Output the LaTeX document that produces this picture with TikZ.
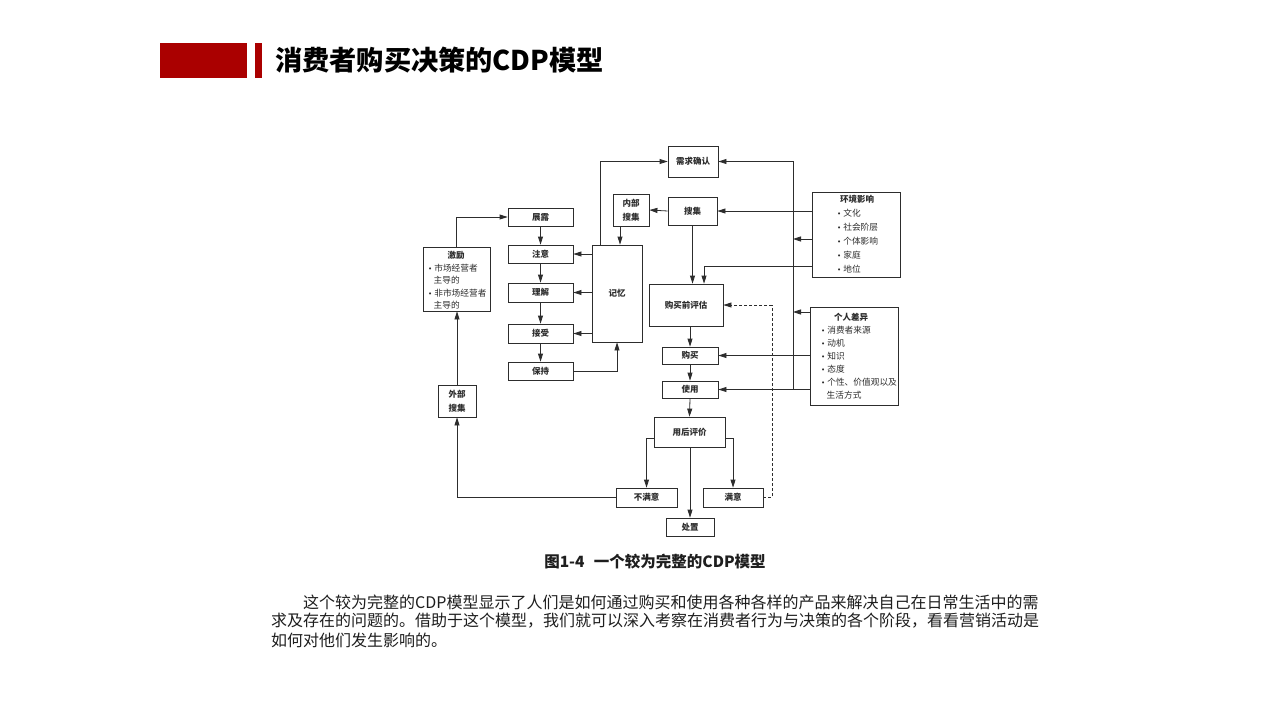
\documentclass[tikz,border=0pt]{standalone}
\usepackage{fontspec}
\setmainfont{Liberation Sans}
\newfontfamily\cjk{Noto Sans CJK SC}
\newfontfamily\dv{DejaVu Sans}
\usetikzlibrary{arrows.meta}
\definecolor{barred}{RGB}{170,0,0}
\definecolor{lc}{RGB}{45,45,45}
\definecolor{tc}{RGB}{30,30,30}
\newcommand{\bul}{{\dv\fontsize{7}{7}\selectfont •}\hspace{2pt}}
\begin{document}
\begin{tikzpicture}[x=1pt,y=-1pt,
 box/.style={draw=lc, line width=0.8pt, fill=white, inner sep=0pt, font=\cjk\bfseries\fontsize{8.5}{13.5}\selectfont, text=lc, align=center},
 line/.style={draw=lc, line width=0.8pt},
 arr/.style={line, -{Triangle[length=8pt,width=5pt]}},
 item/.style={anchor=west, inner sep=0pt, font=\cjk\fontsize{8.7}{10}\selectfont, text=lc},
 ttl/.style={inner sep=0pt, font=\cjk\bfseries\fontsize{8.5}{10}\selectfont, text=lc},
 para/.style={anchor=west, inner sep=0pt, font=\cjk\fontsize{16}{16}\selectfont, text=tc}]
\useasboundingbox (0,0) rectangle (1280,720);
\fill[white] (0,0) rectangle (1280,720);
% header
\fill[barred] (160,43) rectangle (247,78);
\fill[barred] (255,43) rectangle (262,78);
\node[anchor=west, inner sep=0pt, font=\cjk\bfseries\fontsize{27.2}{27}\selectfont, text=black] (title) at (275,60) {消费者购买决策的CDP模型};
% boxes
\node[box, minimum width=50pt, minimum height=31pt] (xqqr) at (693,161.5) {需求确认};
\node[box, minimum width=36pt, minimum height=32pt] (nbsj) at (631,210) {内部\\搜集};
\node[box, minimum width=49pt, minimum height=28pt] (sj) at (692.5,211) {搜集};
\node[box, minimum width=88pt, minimum height=85pt] (hj) at (856,234.5) {};
\node[box, minimum width=65pt, minimum height=18pt] (zl) at (540.5,217) {展露};
\node[box, minimum width=65pt, minimum height=18pt] (zy) at (540.5,254) {注意};
\node[box, minimum width=65pt, minimum height=19pt] (lj) at (540.5,292.5) {理解};
\node[box, minimum width=65pt, minimum height=19pt] (js) at (540.5,333.5) {接受};
\node[box, minimum width=65pt, minimum height=18pt] (bc) at (540.5,371) {保持};
\node[box, minimum width=50pt, minimum height=97pt] (jy) at (617,293.5) {记忆};
\node[box, minimum width=67pt, minimum height=64pt] (jl) at (456.5,279) {};
\node[box, minimum width=74pt, minimum height=42pt] (gmqpg) at (686,305) {购买前评估};
\node[box, minimum width=56pt, minimum height=17pt] (gm) at (690,355.5) {购买};
\node[box, minimum width=56pt, minimum height=17pt] (sy) at (690,389.5) {使用};
\node[box, minimum width=88pt, minimum height=98pt] (grcy) at (854,356) {};
\node[box, minimum width=38pt, minimum height=32pt] (wbsj) at (457,401) {外部\\搜集};
\node[box, minimum width=71pt, minimum height=30pt] (yhpj) at (689.5,432) {用后评价};
\node[box, minimum width=61pt, minimum height=19pt] (bmy) at (646.5,497.5) {不满意};
\node[box, minimum width=60pt, minimum height=19pt] (my) at (733,497.5) {满意};
\node[box, minimum width=48pt, minimum height=18pt] (cz) at (690,527) {处置};
% box contents
\node[ttl] (hjt) at (857,199) {环境影响};
\node[item] (hj1) at (837,213) {\bul 文化};
\node[item] (hj2) at (837,227.5) {\bul 社会阶层};
\node[item] (hj3) at (837,241.5) {\bul 个体影响};
\node[item] (hj4) at (837,255.5) {\bul 家庭};
\node[item] (hj5) at (837,269.5) {\bul 地位};
\node[ttl] (grt) at (851,317.5) {个人差异};
\node[item] (gr1) at (821,330.5) {\bul 消费者来源};
\node[item] (gr2) at (821,343) {\bul 动机};
\node[item] (gr3) at (821,356) {\bul 知识};
\node[item] (gr4) at (821,369) {\bul 态度};
\node[item] (gr5) at (821,382) {\bul 个性、价值观以及};
\node[item] (gr6) at (826.5,395) {生活方式};
\node[ttl] (jlt) at (456,255) {激励};
\node[item] (jl1) at (428,268) {\bul 市场经营者};
\node[item] (jl2) at (433.5,280.5) {主导的};
\node[item] (jl3) at (428,293) {\bul 非市场经营者};
\node[item] (jl4) at (433.5,305.5) {主导的};
% helper coordinates
\coordinate (b1) at (793,239);
\coordinate (b2) at (793,312);
\coordinate (bB) at (793,389.5);
\coordinate (h2) at (704,266);
\coordinate (j1) at (600,0);
\coordinate (n1) at (620,0);
\coordinate (d1) at (772,305);
% connectors
\draw[arr] (jl.north) |- (zl.west);
\draw[arr] (zl.south) -- (zy.north);
\draw[arr] (zy.south) -- (lj.north);
\draw[arr] (lj.south) -- (js.north);
\draw[arr] (js.south) -- (bc.north);
\draw[arr] (jy.west |- zy) -- (zy.east);
\draw[arr] (jy.west |- lj) -- (lj.east);
\draw[arr] (jy.west |- js) -- (js.east);
\draw[arr] (bc.east) -| (jy.south);
\draw[arr] (j1 |- jy.north) |- (xqqr.west);
\draw[arr] (n1 |- nbsj.south) -- (n1 |- jy.north);
\draw[arr] (sj.west) -- (nbsj.east);
\draw[arr] (hj.west |- sj) -- (sj.east);
\draw[arr] (hj.west |- b1) -- (b1);
\draw[arr] (grcy.west |- b2) -- (b2);
\draw[arr] (bB) |- (xqqr.east);
\draw[arr] (hj.west |- h2) -| (h2 |- gmqpg.north);
\draw[arr] (sj.south) -- (sj.south |- gmqpg.north);
\draw[arr] (gm.north |- gmqpg.south) -- (gm.north);
\draw[arr] (grcy.west |- gm) -- (gm.east);
\draw[arr] (grcy.west |- sy) -- (sy.east);
\draw[arr] (gm.south) -- (sy.north);
\draw[arr] (sy.south) -- (yhpj.north);
\draw[arr] (yhpj.south -| cz.north) -- (cz.north);
\draw[arr] (yhpj.west |- 0,438) -| (bmy.north);
\draw[arr] (yhpj.east |- 0,438) -| (my.north);
\draw[arr] (bmy.west) -| (wbsj.south);
\draw[arr] (wbsj.north) -- (wbsj.north |- jl.south);
\draw[line, dash pattern=on 3pt off 2pt] (my.east) -| (d1);
\draw[arr, dash pattern=on 3pt off 2pt] (d1) -- (gmqpg.east);
% caption and paragraph
\node[inner sep=0pt, font=\cjk\bfseries\fontsize{15.5}{15.5}\selectfont, text=tc] (cap) at (655,562) {图1-4\hspace{0.6em}一个较为完整的CDP模型};
\node[para] (p1) at (303,602) {这个较为完整的CDP模型显示了人们是如何通过购买和使用各种各样的产品来解决自己在日常生活中的需};
\node[para] (p2) at (271,621) {求及存在的问题的。借助于这个模型，我们就可以深入考察在消费者行为与决策的各个阶段，看看营销活动是};
\node[para] (p3) at (271,640) {如何对他们发生影响的。};
\end{tikzpicture}
\end{document}
